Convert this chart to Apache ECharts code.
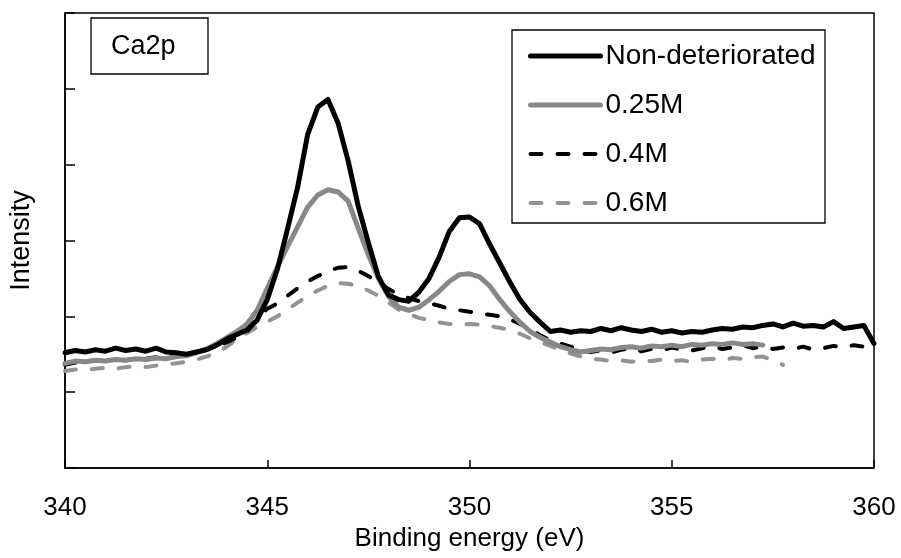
<!DOCTYPE html>
<html>
<head>
<meta charset="utf-8">
<script src="https://cdn.jsdelivr.net/npm/echarts@6/dist/echarts.min.js"></script>
<style>
    html, body { margin: 0; padding: 0; background: #fff; }
    #chart { width: 901px; height: 558px; }
</style>
</head>
<body>
<div id="chart"></div>
<script>
    // binding energy grid (eV), 0.25 step
    var energy = [
        340.00, 340.25, 340.50, 340.75, 341.00, 341.25, 341.50, 341.75, 342.00, 342.25,
        342.50, 342.75, 343.00, 343.25, 343.50, 343.75, 344.00, 344.25, 344.50, 344.75,
        345.00, 345.25, 345.50, 345.75, 346.00, 346.25, 346.50, 346.75, 347.00, 347.25,
        347.50, 347.75, 348.00, 348.25, 348.50, 348.75, 349.00, 349.25, 349.50, 349.75,
        350.00, 350.25, 350.50, 350.75, 351.00, 351.25, 351.50, 351.75, 352.00, 352.25,
        352.50, 352.75, 353.00, 353.25, 353.50, 353.75, 354.00, 354.25, 354.50, 354.75,
        355.00, 355.25, 355.50, 355.75, 356.00, 356.25, 356.50, 356.75, 357.00, 357.25,
        357.50, 357.75, 358.00, 358.25, 358.50, 358.75, 359.00, 359.25, 359.50, 359.75,
        360.00
    ];

    var nonDeteriorated = [
        1.52, 1.55, 1.53, 1.56, 1.54, 1.58, 1.55, 1.57, 1.54, 1.58,
        1.53, 1.52, 1.50, 1.53, 1.56, 1.62, 1.70, 1.76, 1.82, 1.95,
        2.22, 2.62, 3.15, 3.70, 4.40, 4.76, 4.86, 4.55, 4.05, 3.45,
        2.97, 2.52, 2.28, 2.22, 2.20, 2.32, 2.50, 2.78, 3.12, 3.30,
        3.31, 3.22, 2.95, 2.70, 2.45, 2.22, 2.05, 1.92, 1.80, 1.82,
        1.79, 1.81, 1.80, 1.84, 1.81, 1.85, 1.82, 1.80, 1.83, 1.79,
        1.81, 1.78, 1.80, 1.79, 1.82, 1.84, 1.83, 1.86, 1.85, 1.88,
        1.90, 1.86, 1.91, 1.87, 1.88, 1.86, 1.93, 1.84, 1.86, 1.88,
        1.64
    ];

    var m025 = [
        1.38, 1.41, 1.40, 1.42, 1.41, 1.43, 1.42, 1.44, 1.43, 1.45,
        1.44, 1.47, 1.48, 1.52, 1.57, 1.64, 1.72, 1.80, 1.90, 2.08,
        2.37, 2.65, 2.92, 3.18, 3.44, 3.60, 3.67, 3.64, 3.52, 3.16,
        2.81, 2.50, 2.26, 2.12, 2.08, 2.12, 2.22, 2.33, 2.46, 2.55,
        2.56, 2.52, 2.40, 2.22, 2.06, 1.92, 1.80, 1.72, 1.66, 1.60,
        1.56, 1.53, 1.55, 1.57, 1.56, 1.59, 1.60, 1.58, 1.61, 1.60,
        1.62, 1.60, 1.63, 1.62, 1.64, 1.63, 1.65, 1.63, 1.64, 1.62
    ];

    var m04 = [
        1.36, 1.39, 1.40, 1.42, 1.41, 1.43, 1.42, 1.45, 1.44, 1.46,
        1.47, 1.49, 1.51, 1.53, 1.56, 1.60, 1.66, 1.72, 1.80, 1.97,
        2.10, 2.17, 2.27, 2.37, 2.46, 2.53, 2.60, 2.64, 2.65, 2.60,
        2.53, 2.45, 2.36, 2.29, 2.24, 2.20, 2.17, 2.14, 2.10, 2.08,
        2.06, 2.04, 2.02, 2.00, 1.96, 1.90, 1.83, 1.75, 1.68, 1.64,
        1.60, 1.55, 1.53, 1.55, 1.52, 1.56, 1.58, 1.54, 1.57, 1.55,
        1.59, 1.56, 1.55, 1.58, 1.60, 1.57, 1.59, 1.62, 1.58, 1.60,
        1.57, 1.59, 1.57, 1.60, 1.56, 1.58, 1.61, 1.59, 1.62, 1.60,
        1.62
    ];

    var m06 = [
        1.28, 1.30, 1.29, 1.31, 1.32, 1.31, 1.33, 1.34, 1.33, 1.35,
        1.37, 1.38, 1.40, 1.43, 1.47, 1.52, 1.60, 1.70, 1.78, 1.86,
        1.93, 2.00, 2.09, 2.18, 2.27, 2.34, 2.40, 2.44, 2.43, 2.40,
        2.34, 2.27, 2.18, 2.09, 2.03, 1.98, 1.95, 1.92, 1.90, 1.89,
        1.90, 1.89, 1.87, 1.85, 1.82, 1.77, 1.71, 1.66, 1.61, 1.56,
        1.51, 1.47, 1.44, 1.43, 1.41, 1.42, 1.40, 1.42, 1.41, 1.43,
        1.41, 1.42, 1.40, 1.43, 1.44, 1.42, 1.45, 1.44, 1.46, 1.47,
        1.42, 1.36
    ];

    var seriesNames = ['Non-deteriorated', '0.25M', '0.4M', '0.6M'];
    var xTicks = [340, 345, 350, 355, 360];

    function pairs(values) {
        return values.map(function (v, i) { return [energy[i], v]; });
    }

    var font = 'Liberation Sans';
    var dash = [11, 16];
    var chart = echarts.init(document.getElementById('chart'));

    var styles = [
        { color: '#000', width: 5, type: 'solid' },
        { color: '#888888', width: 5, type: 'solid' },
        { color: '#000', width: 4, type: dash },
        { color: '#939393', width: 4, type: dash }
    ];

    var option = {
        backgroundColor: '#fff',
        animation: false,
        grid: {
            left: 64, right: 27, top: 13, bottom: 90,
            show: true, borderColor: '#000', borderWidth: 1.5,
            containLabel: false
        },
        xAxis: {
            type: 'value',
            min: xTicks[0], max: xTicks[xTicks.length - 1], interval: 5,
            name: 'Binding energy (eV)',
            nameLocation: 'middle',
            nameGap: 52,
            nameTextStyle: { fontFamily: font, fontSize: 26, color: '#000' },
            axisLine: { lineStyle: { color: '#000', width: 1.5 } },
            axisTick: { inside: true, length: 8, lineStyle: { color: '#000', width: 1.5 } },
            axisLabel: { fontFamily: font, fontSize: 26, color: '#000', margin: 27 },
            splitLine: { show: false }
        },
        yAxis: {
            type: 'value',
            min: 0, max: 6, interval: 1,
            name: 'Intensity',
            nameLocation: 'middle',
            nameGap: 30,
            nameTextStyle: { fontFamily: font, fontSize: 27, color: '#000' },
            axisLine: { show: true, lineStyle: { color: '#000', width: 1.5 } },
            axisTick: { inside: true, length: 10, lineStyle: { color: '#000', width: 1.5 } },
            axisLabel: { show: false },
            splitLine: { show: false }
        },
        legend: {
            orient: 'vertical',
            left: 528,
            top: 42,
            itemWidth: 70,
            itemHeight: 14,
            itemGap: 21,
            padding: 0,
            textStyle: { fontFamily: font, fontSize: 28, color: '#000' },
            data: seriesNames.map(function (n, i) {
                return {
                    name: n,
                    itemStyle: { opacity: 0 },
                    lineStyle: { color: styles[i].color, width: styles[i].width, type: styles[i].type, cap: 'round' }
                };
            })
        },
        graphic: [
            {
                type: 'rect',
                shape: { x: 91, y: 18, width: 117, height: 56 },
                style: { fill: '#fff', stroke: '#000', lineWidth: 1.3 }
            },
            {
                type: 'text',
                x: 111, y: 47,
                style: { text: 'Ca2p', font: '27px "Liberation Sans"', fill: '#000', verticalAlign: 'middle' }
            },
            {
                type: 'rect',
                shape: { x: 512, y: 30, width: 313, height: 193 },
                style: { fill: 'rgba(0,0,0,0)', stroke: '#000', lineWidth: 1.3 }
            }
        ],
        series: seriesNames.map(function (n, i) {
            var vals = [nonDeteriorated, m025, m04, m06][i];
            return {
                name: n, type: 'line', symbol: 'none', z: 5 - i,
                lineStyle: { color: styles[i].color, width: styles[i].width, type: styles[i].type, cap: 'round', join: 'round' },
                itemStyle: { color: styles[i].color },
                data: pairs(vals)
            };
        })
    };

    option && chart.setOption(option);
</script>
</body>
</html>
